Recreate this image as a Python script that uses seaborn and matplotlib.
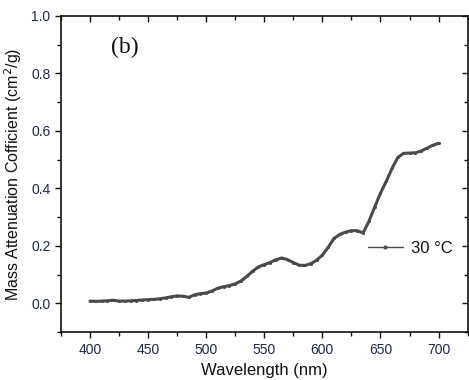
import matplotlib
matplotlib.use("Agg")
import matplotlib.pyplot as plt
import seaborn as sns
import pandas as pd
from matplotlib.ticker import MultipleLocator

wavelength = [400, 405, 410, 415, 420, 425, 430, 435, 440, 445, 450, 455, 460, 465,
              470, 475, 480, 485, 490, 495, 500, 505, 510, 515, 520, 525, 530, 535,
              540, 545, 550, 555, 560, 565, 570, 575, 580, 585, 590, 595, 600, 605,
              610, 615, 620, 625, 630, 635, 640, 645, 650, 655, 660, 665, 670, 675,
              680, 685, 690, 695, 700]
coefficient = [0.008, 0.007, 0.008, 0.009, 0.011, 0.008, 0.008, 0.009, 0.010, 0.012,
               0.013, 0.014, 0.016, 0.019, 0.023, 0.026, 0.025, 0.021, 0.030, 0.034,
               0.036, 0.043, 0.053, 0.058, 0.062, 0.068, 0.078, 0.094, 0.112, 0.127,
               0.135, 0.142, 0.152, 0.158, 0.152, 0.142, 0.133, 0.132, 0.138, 0.150,
               0.168, 0.195, 0.226, 0.240, 0.248, 0.253, 0.253, 0.245, 0.285, 0.335,
               0.383, 0.425, 0.470, 0.508, 0.522, 0.523, 0.524, 0.530, 0.540, 0.550,
               0.557]
series_label = "30 °C"
panel_label = "(b)"

df = pd.DataFrame({"Wavelength": wavelength, "Coefficient": coefficient})

sns.set_theme(style="ticks")
plt.rcParams['font.family'] = ['Liberation Sans', 'DejaVu Sans']

fig = plt.figure(figsize=(4.69, 3.80), dpi=100)
ax = fig.add_axes([0.130, 0.126, 0.867, 0.832])

sns.lineplot(data=df, x="Wavelength", y="Coefficient", ax=ax, color="#4a4a4a",
             linewidth=2.2, marker="o", markersize=2.2, markeredgewidth=0,
             label=series_label)

ax.set_xlim(375, 725)
ax.set_ylim(-0.1, 1.0)
ax.set_xticks([400, 450, 500, 550, 600, 650, 700])
ax.set_yticks([0.0, 0.2, 0.4, 0.6, 0.8, 1.0])
ax.xaxis.set_minor_locator(MultipleLocator(25))
ax.yaxis.set_minor_locator(MultipleLocator(0.1))
ax.yaxis.set_major_formatter(matplotlib.ticker.FormatStrFormatter('%.1f'))

for s in ax.spines.values():
    s.set_linewidth(1.2)
    s.set_color("#111111")

ax.tick_params(axis='both', which='both', direction='out', length=4, width=1.0,
               colors="#111111", labelsize=10, labelcolor="#1f2a44")
ax.tick_params(axis='both', which='minor', length=3)
ax.tick_params(top=True, right=True, which='both')
for tick in ax.xaxis.get_major_ticks() + ax.xaxis.get_minor_ticks():
    tick.tick2line.set_marker(matplotlib.lines.TICKDOWN)
for tick in ax.yaxis.get_major_ticks() + ax.yaxis.get_minor_ticks():
    tick.tick2line.set_marker(matplotlib.lines.TICKLEFT)

ax.set_xlabel("Wavelength (nm)", fontsize=12, color="#111111", labelpad=5)
ax.set_ylabel("Mass Attenuation Cofficient (cm$^2$/g)", fontsize=11.5, color="#111111",
              labelpad=5)

ax.text(418, 0.87, panel_label, fontsize=17, family=['Liberation Serif', 'DejaVu Serif'],
        color="#111111")

leg = ax.legend(loc="center left", bbox_to_anchor=(0.754, 0.266), frameon=False,
                handlelength=2.15, handletextpad=0.45, fontsize=12,
                borderaxespad=0, borderpad=0)
for t in leg.get_texts():
    t.set_color("#111111")
for h in leg.get_lines():
    h.set_linewidth(1.0)
    h.set_markersize(3)

fig.savefig("out.png", dpi=100)
